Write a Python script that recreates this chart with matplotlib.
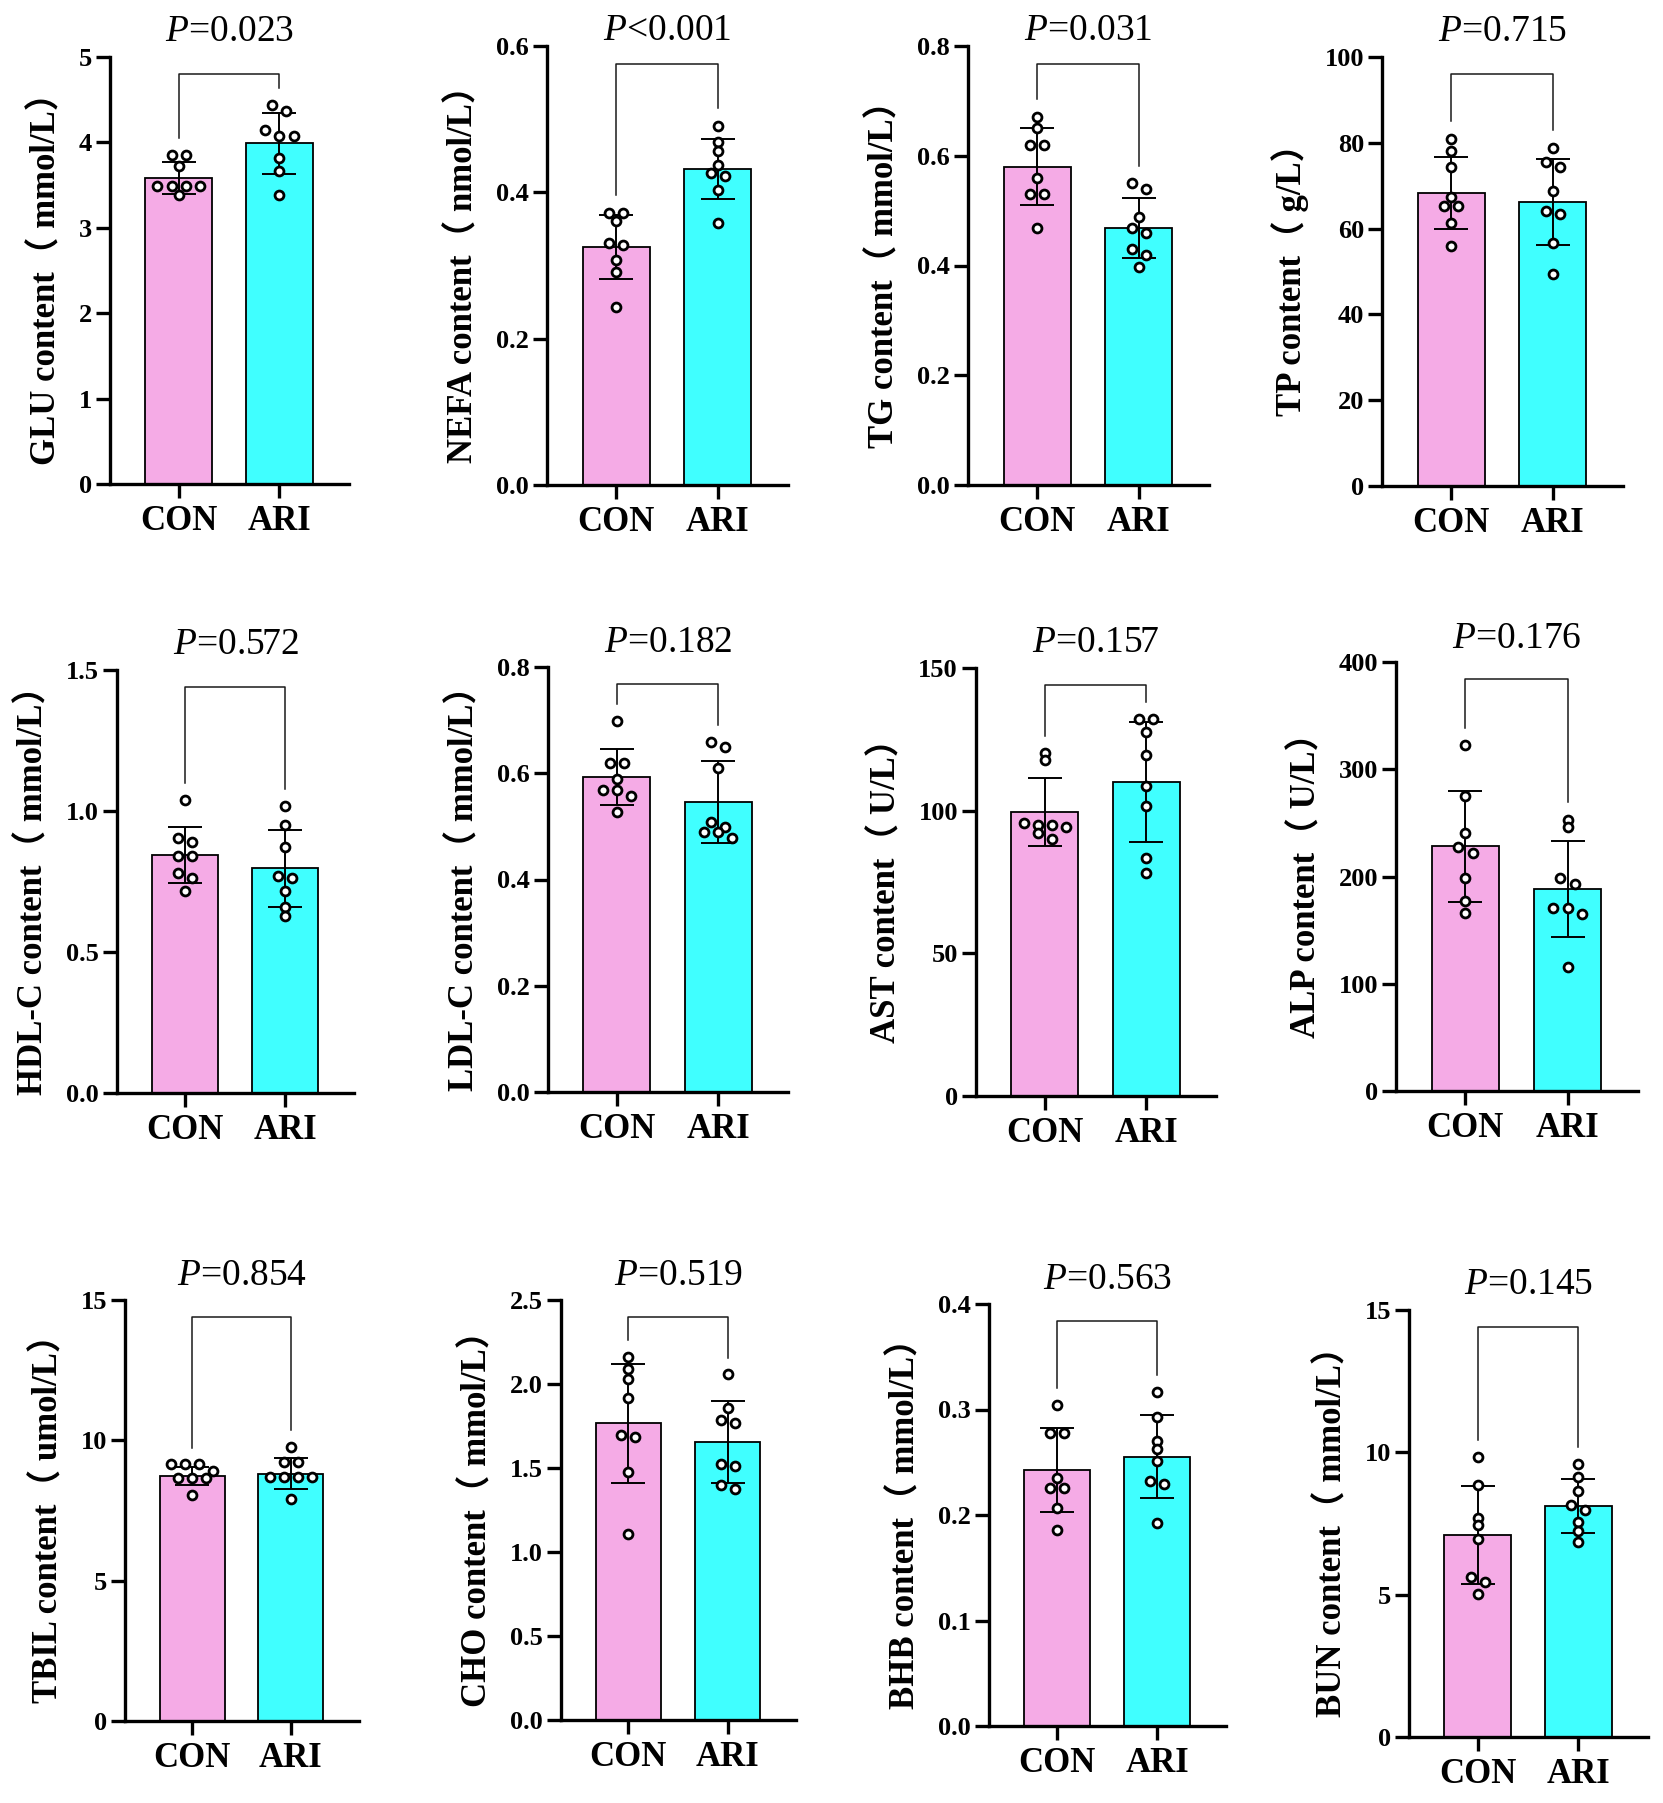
import numpy as np
import matplotlib
matplotlib.use('Agg')
import matplotlib.pyplot as plt

plt.rcParams['font.family'] = ['Liberation Serif', 'Noto Sans CJK SC']
plt.rcParams['mathtext.fontset'] = 'custom'
plt.rcParams['mathtext.rm'] = 'Liberation Serif'
plt.rcParams['mathtext.it'] = 'Liberation Serif:italic'

# data (n = 8 per group, bars = mean, error = SD)
groups = ['CON', 'ARI']
bar_colors = ['#F5ABE6', '#40FFFF']

labels = ['GLU content（ mmol/L）', 'NEFA content（ nmol/L）', 'TG content（ mmol/L）',
          'TP content（ g/L）', 'HDL-C content（ mmol/L）', 'LDL-C content（ mmol/L）',
          'AST content（ U/L）', 'ALP content（ U/L）', 'TBIL content（ umol/L）',
          'CHO content（ mmol/L）', 'BHB content（ mmol/L）', 'BUN content（ mmol/L）']
p_text = ['=0.023', '<0.001', '=0.031', '=0.715', '=0.572', '=0.182',
          '=0.157', '=0.176', '=0.854', '=0.519', '=0.563', '=0.145']
y_max = [5, 0.6, 0.8, 100, 1.5, 0.8, 150, 400, 15, 2.5, 0.4, 15]
y_step = [1, 0.2, 0.2, 20, 0.5, 0.2, 50, 100, 5, 0.5, 0.1, 5]

means = [[3.58, 3.99], [0.325, 0.432], [0.580, 0.468], [68.3, 66.2],
         [0.843, 0.797], [0.593, 0.546], [99.5, 110.0], [228.0, 188.3],
         [8.73, 8.81], [1.765, 1.655], [0.2427, 0.2554], [7.09, 8.11]]
sds = [[0.185, 0.355], [0.044, 0.041], [0.070, 0.055], [8.4, 10.0],
       [0.099, 0.137], [0.053, 0.078], [12.0, 21.0], [51.8, 45.0],
       [0.33, 0.56], [0.353, 0.243], [0.040, 0.039], [1.72, 0.95]]

con_points = [
    [3.85, 3.85, 3.72, 3.49, 3.49, 3.49, 3.49, 3.38],
    [0.372, 0.372, 0.361, 0.331, 0.328, 0.308, 0.291, 0.243],
    [0.671, 0.650, 0.619, 0.619, 0.560, 0.530, 0.530, 0.468],
    [81.0, 78.0, 74.4, 67.3, 65.2, 65.2, 61.4, 55.9],
    [1.040, 0.903, 0.890, 0.839, 0.839, 0.779, 0.763, 0.718],
    [0.699, 0.619, 0.619, 0.590, 0.569, 0.569, 0.558, 0.528],
    [120.1, 117.6, 95.7, 94.9, 94.9, 94.4, 92.2, 90.0],
    [322.2, 275.5, 240.4, 227.7, 222.0, 198.7, 177.6, 166.3],
    [9.14, 9.14, 9.14, 8.91, 8.65, 8.65, 8.65, 8.05],
    [2.160, 2.089, 2.031, 1.917, 1.698, 1.683, 1.477, 1.107],
    [0.304, 0.278, 0.278, 0.235, 0.226, 0.226, 0.207, 0.186],
    [9.85, 8.84, 7.70, 7.44, 6.96, 5.61, 5.44, 5.04],
]
ari_points = [
    [4.44, 4.37, 4.15, 4.08, 4.08, 3.82, 3.66, 3.38],
    [0.491, 0.469, 0.457, 0.437, 0.427, 0.423, 0.403, 0.358],
    [0.550, 0.540, 0.489, 0.468, 0.459, 0.430, 0.419, 0.398],
    [78.9, 75.6, 74.3, 68.7, 64.1, 63.4, 56.7, 49.5],
    [1.019, 0.951, 0.871, 0.769, 0.763, 0.718, 0.658, 0.629],
    [0.658, 0.650, 0.609, 0.508, 0.499, 0.489, 0.489, 0.479],
    [132.0, 132.0, 127.6, 119.5, 108.8, 101.6, 83.4, 78.1],
    [253.1, 246.1, 198.7, 193.0, 170.3, 170.3, 164.6, 115.2],
    [9.77, 9.23, 9.23, 8.68, 8.68, 8.68, 8.68, 7.91],
    [2.057, 1.855, 1.784, 1.767, 1.526, 1.513, 1.397, 1.376],
    [0.317, 0.293, 0.270, 0.263, 0.251, 0.232, 0.229, 0.192],
    [9.59, 9.15, 8.65, 8.14, 7.97, 7.54, 7.22, 6.84],
]

# layout: axes boxes in pixels (left, right, top, bottom) and title baselines
W, H = 1663, 1803
boxes = [(110, 349, 57, 484), (547, 788, 46, 485), (968, 1209, 46, 485), (1382, 1623, 57, 486),
         (117, 354, 670, 1093), (548, 788, 667, 1092), (976, 1216, 668, 1096), (1396, 1638, 662, 1091),
         (125, 359, 1300, 1721), (561, 796, 1300, 1720), (989, 1226, 1304, 1726), (1409, 1648, 1310, 1737)]
title_base = [41, 40, 40, 41, 654, 652, 652, 648, 1285, 1285, 1289, 1294]


def swarm_x(values, centre, px_per_unit, row_px=7.0, step=0.14):
    # put points of similar height in one row and spread them evenly
    order = np.argsort(values)[::-1]
    xs = np.zeros(len(values))
    rows = []
    for i in order:
        if rows and (values[rows[-1][0]] - values[i]) * px_per_unit < row_px:
            rows[-1].append(i)
        else:
            rows.append([i])
    for row in rows:
        n = len(row)
        for k, i in enumerate(row):
            xs[i] = centre + (k - (n - 1) / 2) * step
    return xs


fig = plt.figure(figsize=(W / 100, H / 100), dpi=100)

for i in range(12):
    L, R, T, B = boxes[i]
    ax = fig.add_axes([L / W, 1 - B / H, (R - L) / W, (B - T) / H])
    ymax = y_max[i]
    px_per_unit = (B - T) / ymax

    ax.bar([0, 1], means[i], width=0.66, color=bar_colors, edgecolor='black',
           linewidth=1.3, zorder=1)
    ax.errorbar([0, 1], means[i], yerr=sds[i], fmt='none', ecolor='black',
                elinewidth=1.4, capsize=12, capthick=1.4, zorder=2)

    tops = []
    for g, pts in enumerate([con_points[i], ari_points[i]]):
        pts = np.array(pts)
        xs = swarm_x(pts, g, px_per_unit)
        ax.plot(xs, pts, 'o', ms=6.4, mfc='white', mec='black', mew=2.0,
                zorder=3, clip_on=False)
        tops.append(max(pts.max(), means[i][g] + sds[i][g]))

    # comparison bracket
    top = 0.96 * ymax
    ax.plot([0, 0, 1, 1], [tops[0] + 0.04 * ymax, top, top, tops[1] + 0.04 * ymax],
            color='#1a1a1a', lw=1.1, zorder=2, clip_on=False)

    ax.set_xlim(-0.68, 1.69)
    ax.set_ylim(0, ymax)
    step = y_step[i]
    ticks = np.arange(0, ymax + step / 2, step)
    ax.set_yticks(ticks)
    if step < 1:
        ax.set_yticklabels([f'{t:.1f}' for t in ticks])
    else:
        ax.set_yticklabels([f'{t:.0f}' for t in ticks])
    ax.set_xticks([0, 1])
    ax.set_xticklabels(groups)

    for s in ['top', 'right']:
        ax.spines[s].set_visible(False)
    for s in ['left', 'bottom']:
        ax.spines[s].set_linewidth(2.4)
    ax.tick_params(axis='both', length=10, width=2.4)
    ax.tick_params(axis='y', labelsize=19, pad=3)
    ax.tick_params(axis='x', labelsize=25, pad=5)
    for t in ax.get_yticklabels() + ax.get_xticklabels():
        t.set_fontweight('bold')

    ax.set_ylabel(labels[i], fontsize=25, fontweight='bold', labelpad=11)

    fig.text((L + R) / 2 / W, 1 - title_base[i] / H, r'$\mathit{P}$' + p_text[i],
             fontsize=27, ha='center', va='baseline')

fig.savefig('out.png', dpi=100)
